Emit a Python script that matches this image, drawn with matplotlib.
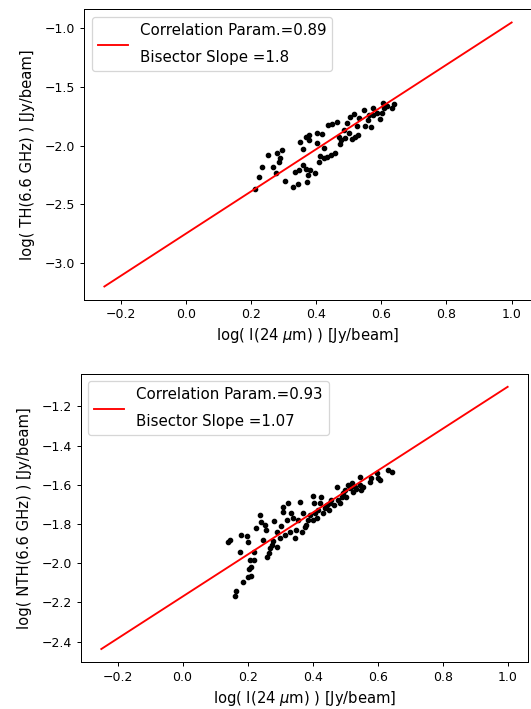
import numpy as np
import matplotlib.pyplot as plt

# thermal (TH) vs 24 micron
x_th = [0.213, 0.226, 0.234, 0.252, 0.267, 0.281, 0.287, 0.290, 0.296, 0.277,
        0.305, 0.329, 0.344, 0.336, 0.346, 0.361, 0.370, 0.372, 0.374, 0.382,
        0.395, 0.349, 0.361, 0.370, 0.377, 0.377, 0.402, 0.404, 0.410, 0.413,
        0.419, 0.425, 0.425, 0.433, 0.436, 0.446, 0.457, 0.449, 0.464, 0.469,
        0.474, 0.476, 0.484, 0.489, 0.502, 0.495, 0.505, 0.510, 0.515, 0.520,
        0.527, 0.532, 0.546, 0.551, 0.558, 0.568, 0.574, 0.576, 0.587, 0.595,
        0.605, 0.607, 0.618, 0.633, 0.638, 0.602, 0.561, 0.525]
y_th = [-2.372, -2.270, -2.179, -2.082, -2.179, -2.060, -2.136, -2.107, -2.037, -2.230,
        -2.298, -2.355, -2.327, -2.222, -2.207, -2.165, -2.201, -2.309, -2.250, -2.207,
        -2.235, -1.971, -2.031, -1.923, -1.909, -1.951, -1.889, -1.980, -2.136, -2.088,
        -1.900, -2.017, -2.107, -2.094, -1.824, -2.079, -2.065, -1.815, -1.795, -1.923,
        -1.988, -1.951, -1.866, -1.932, -1.889, -1.809, -1.753, -1.945, -1.730, -1.923,
        -1.909, -1.766, -1.696, -1.832, -1.781, -1.838, -1.681, -1.738, -1.724, -1.775,
        -1.633, -1.681, -1.662, -1.681, -1.644, -1.724, -1.738, -1.832]

# non-thermal (NTH) vs 24 micron
x_nth = [0.161, 0.164, 0.186, 0.202, 0.209, 0.205, 0.212, 0.219, 0.207, 0.176,
         0.140, 0.145, 0.179, 0.199, 0.202, 0.219, 0.225, 0.238, 0.241, 0.248,
         0.253, 0.258, 0.260, 0.266, 0.268, 0.274, 0.279, 0.282, 0.289, 0.291,
         0.299, 0.304, 0.308, 0.309, 0.315, 0.320, 0.323, 0.330, 0.335, 0.340,
         0.345, 0.348, 0.355, 0.361, 0.366, 0.371, 0.376, 0.381, 0.386, 0.391,
         0.400, 0.402, 0.404, 0.407, 0.412, 0.417, 0.422, 0.427, 0.432, 0.438,
         0.443, 0.451, 0.453, 0.458, 0.465, 0.474, 0.478, 0.484, 0.489, 0.494,
         0.499, 0.504, 0.509, 0.514, 0.520, 0.525, 0.530, 0.535, 0.545, 0.545,
         0.550, 0.555, 0.576, 0.581, 0.597, 0.601, 0.607, 0.632, 0.643]
y_nth = [-2.167, -2.140, -2.094, -2.071, -2.065, -2.031, -2.017, -1.983, -1.983, -1.941,
         -1.890, -1.881, -1.856, -1.861, -1.890, -1.941, -1.821, -1.754, -1.788, -1.881,
         -1.805, -1.830, -1.966, -1.949, -1.923, -1.907, -1.885, -1.783, -1.839, -1.915,
         -1.872, -1.810, -1.737, -1.711, -1.856, -1.779, -1.694, -1.839, -1.742, -1.770,
         -1.872, -1.830, -1.779, -1.686, -1.839, -1.742, -1.813, -1.805, -1.779, -1.754,
         -1.657, -1.779, -1.694, -1.745, -1.770, -1.728, -1.694, -1.660, -1.745, -1.719,
         -1.703, -1.728, -1.694, -1.677, -1.703, -1.609, -1.677, -1.694, -1.660, -1.643,
         -1.626, -1.660, -1.600, -1.617, -1.589, -1.635, -1.609, -1.622, -1.558, -1.600,
         -1.626, -1.609, -1.584, -1.566, -1.541, -1.566, -1.575, -1.524, -1.533]

# bisector fits
slope_th, icpt_th, corr_th = 1.8, -2.75, 0.89
slope_nth, icpt_nth, corr_nth = 1.07, -2.17, 0.93
x_fit = np.array([-0.25, 1.0])

fig = plt.figure(figsize=(531 / 90, 709 / 90), dpi=90)
ax1 = fig.add_axes([0.1582, 0.5773, 0.8437, 0.4096])
ax2 = fig.add_axes([0.1525, 0.0661, 0.8418, 0.4068])


def panel(ax, x, y, slope, icpt, corr, ylab):
    ax.plot(x, y, 'k.', markersize=7)
    ax.plot(x_fit, slope * x_fit + icpt, 'r-',
            label=f'Correlation Param.={corr}\nBisector Slope ={slope}')
    ax.set_xlabel(r'log( I(24 $\mu$m) ) [Jy/beam]', fontsize=11.8)
    ax.set_ylabel(ylab, fontsize=11.8, labelpad=8)
    leg = ax.legend(loc='upper left', fontsize=12)
    for t in leg.get_texts():
        t.set_linespacing(2.0)


panel(ax1, x_th, y_th, slope_th, icpt_th, corr_th, 'log( TH(6.6 GHz) ) [Jy/beam]')
panel(ax2, x_nth, y_nth, slope_nth, icpt_nth, corr_nth, 'log( NTH(6.6 GHz) ) [Jy/beam]')

fig.savefig('out.png', dpi=90)
